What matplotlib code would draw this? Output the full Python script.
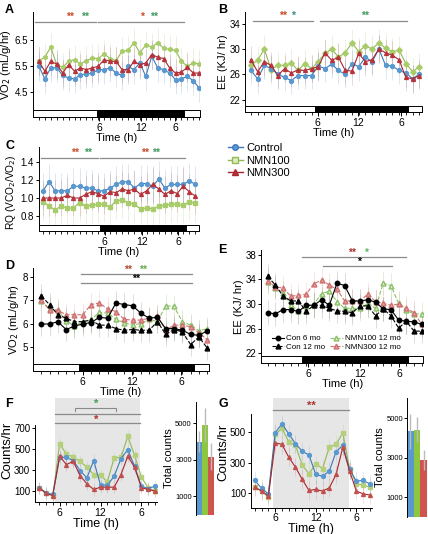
import numpy as np
import matplotlib
matplotlib.use('Agg')
import matplotlib.pyplot as plt
import matplotlib.transforms as mtransforms
from matplotlib.patches import Rectangle
from matplotlib.lines import Line2D

plt.rcParams.update({
    'font.family': ['Liberation Sans Narrow', 'Liberation Sans', 'DejaVu Sans'],
    'font.size': 7,
    'axes.linewidth': 0.7,
    'xtick.major.width': 0.7,
    'ytick.major.width': 0.7,
    'xtick.major.size': 3,
    'ytick.major.size': 2.5,
    'xtick.minor.size': 2,
    'xtick.major.pad': 1,
    'ytick.major.pad': 1,
    'xtick.labelsize': 7.5,
    'ytick.labelsize': 7,
})

# ---- data ----
a_ctrl = [5.50, 5.02, 5.44, 5.44, 5.15, 5.05, 5.02, 5.18, 5.20, 5.24, 5.37, 5.37, 5.44, 5.24,
          5.15, 5.50, 5.37, 5.63, 5.11, 5.89, 5.44, 5.37, 5.24, 4.98, 5.02, 5.11, 4.94, 4.66]
a_n100 = [5.72, 5.85, 6.24, 5.56, 5.46, 5.69, 5.76, 5.59, 5.72, 5.82, 5.80, 5.98, 5.80, 5.72,
          6.08, 6.11, 6.41, 6.02, 6.32, 6.24, 6.41, 6.19, 6.15, 6.11, 5.69, 5.50, 5.63, 5.59]
a_n300 = [5.69, 5.31, 5.69, 5.59, 5.24, 5.56, 5.31, 5.44, 5.37, 5.44, 5.50, 5.76, 5.69, 5.69,
          5.37, 5.37, 5.69, 5.56, 5.63, 5.95, 5.85, 5.80, 5.44, 5.24, 5.28, 5.46, 5.24, 5.24]

b_ctrl = [26.6, 25.3, 27.4, 26.9, 26.0, 25.5, 25.0, 25.8, 25.8, 25.8, 27.3, 26.9, 27.6,
          26.6, 26.0, 27.7, 27.2, 28.7, 28.0, 30.0, 27.4, 27.3, 26.6, 26.2, 25.3, 26.0]
b_n100 = [27.4, 28.2, 30.0, 26.7, 27.4, 27.4, 27.8, 26.6, 27.7, 26.9, 28.0, 29.3, 30.0,
          28.7, 29.4, 31.0, 29.6, 30.5, 30.0, 31.0, 30.1, 29.6, 29.8, 27.7, 26.4, 27.2]
b_n300 = [28.3, 26.4, 28.0, 27.4, 25.8, 26.9, 26.2, 26.7, 26.6, 26.9, 27.2, 29.4, 28.2,
          28.7, 26.6, 26.5, 29.3, 28.0, 28.3, 30.0, 29.4, 29.0, 28.3, 25.5, 25.3, 25.8]

c_ctrl = [1.08, 1.18, 1.08, 1.08, 1.08, 1.13, 1.13, 1.11, 1.11, 1.08, 1.08, 1.11, 1.15,
          1.18, 1.18, 1.11, 1.16, 1.16, 1.13, 1.21, 1.11, 1.15, 1.15, 1.15, 1.19, 1.15]
c_n100 = [0.96, 0.91, 0.87, 0.91, 0.89, 0.89, 0.95, 0.91, 0.92, 0.93, 0.93, 0.90, 0.97,
          0.98, 0.95, 0.93, 0.88, 0.89, 0.88, 0.91, 0.92, 0.93, 0.93, 0.92, 0.96, 0.94]
c_n300 = [1.00, 1.00, 1.00, 1.00, 1.03, 1.00, 1.00, 1.04, 1.07, 1.05, 1.02, 1.07, 1.06,
          1.10, 1.08, 1.10, 1.04, 1.08, 1.15, 1.10, 1.04, 1.08, 1.05, 1.13, 1.07, 1.02]

d_con6 = [5.98, 5.98, 6.08, 5.74, 5.89, 5.98, 6.04, 6.27, 6.23, 6.89, 6.82, 6.77, 6.45, 6.23,
          6.27, 5.78, 5.78, 5.71, 5.53, 5.49, 5.68]
d_con12 = [7.19, 6.82, 6.38, 6.23, 6.08, 6.08, 6.15, 5.93, 5.93, 5.78, 5.71, 5.74, 5.71, 5.71,
           6.08, 5.53, 5.74, 5.64, 5.09, 5.42, 4.94]
d_n100 = [6.97, 6.63, 6.57, 6.12, 5.89, 6.08, 6.18, 6.48, 6.45, 6.18, 6.04, 5.93, 6.00, 6.18,
          6.08, 6.77, 6.74, 6.08, 5.93, 5.68, 5.78]
d_n300 = [7.00, 6.60, 6.57, 6.38, 6.38, 6.38, 6.82, 6.89, 6.63, 6.52, 6.18, 6.15, 6.15, 6.23,
          6.33, 5.71, 5.93, 5.93, 5.86, 5.60, 5.30]

e_con6 = [28.6, 28.4, 29.1, 29.1, 28.8, 29.8, 29.8, 30.7, 29.8, 33.4, 33.0, 30.5, 30.5, 30.7,
          30.3, 29.2, 29.1, 27.4, 27.2, 27.1, 26.7]
e_con12 = [34.5, 33.1, 31.3, 30.5, 30.5, 28.8, 29.8, 29.8, 29.3, 28.9, 28.8, 28.6, 29.7, 29.7,
           28.1, 29.2, 28.1, 26.1, 27.2, 25.6, 25.6]
e_n100 = [33.6, 32.6, 31.8, 29.8, 28.8, 29.7, 30.0, 31.7, 32.1, 30.4, 29.3, 29.3, 29.3, 30.1,
          29.3, 33.4, 33.0, 30.1, 29.0, 28.4, 28.4]
e_n300 = [33.8, 32.8, 32.6, 31.3, 31.4, 31.6, 33.3, 33.9, 33.1, 32.4, 30.5, 30.5, 30.5, 31.6,
          30.4, 30.1, 29.8, 30.0, 29.3, 28.6, 26.7]

hours = [3, 4, 5, 6, 7, 8, 9, 10, 11, 12, 13, 14, 15, 16, 17, 18, 19, 20]
f_ctrl = [126, 78, 62, 419, 419, 387, 292, 221, 387, 151, 151, 237, 406, 493, 333, 142, 119, 142]
f_n100 = [126, 78, 52, 547, 451, 419, 381, 324, 253, 247, 183, 413, 419, 620, 438, 228, 126, 94]
f_n300 = [126, 72, 52, 429, 349, 381, 244, 164, 110, 132, 132, 132, 253, 429, 324, 126, 110, 94]
g_ctrl = [183, 131, 96, 493, 552, 487, 422, 374, 348, 222, 211, 244, 370, 413, 255, 179, 183, 161]
g_n100 = [140, 114, 75, 483, 522, 435, 413, 283, 227, 292, 261, 400, 418, 493, 261, 161, 153, 140]
g_n300 = [140, 114, 81, 428, 418, 335, 270, 190, 118, 125, 114, 135, 222, 400, 244, 114, 96, 88]

f_total = [4000, 4900, 3180]
f_total_err = [550, 920, 720]
g_total = [4350, 4440, 2910]
g_total_err = [890, 630, 510]

# ---- styles ----
BLUE, BLUE_M = '#3d78b8', '#5a98d0'
GREEN, GREEN_M = '#93b955', '#a9cc6a'
RED, RED_M = '#a8262f', '#b8333c'
LGREEN, PINK = '#8cc06a', '#e09a9a'
STAR_R, STAR_G = '#cc4a2a', '#3f9a5c'
GREY = '#8a8a8a'

fig = plt.figure(figsize=(4.28, 5.34), dpi=100)


def light_dark(ax, x0, x1, start, end, h=0.065):
    tr = mtransforms.blended_transform_factory(ax.transData, ax.transAxes)
    ax.add_patch(Rectangle((x0, 0), x1 - x0, h, transform=tr, fc='white', ec='black', lw=0.7,
                           clip_on=False, zorder=5))
    ax.add_patch(Rectangle((start, 0), end - start, h, transform=tr, fc='black', ec='black',
                           lw=0.7, clip_on=False, zorder=6))


def sig(ax, x0, x1, y, color=GREY):
    ax.plot([x0, x1], [y, y], color=color, lw=0.9, zorder=1)


def star(ax, x, y, s, color, size=7.5):
    ax.text(x, y, s, color=color, fontsize=size, ha='center', va='center', fontweight='bold')


def style_ts(ax, n, xlim, ylim, yticks, ticks, ylabel, ysize=8):
    ax.set_xlim(*xlim)
    ax.set_ylim(*ylim)
    ax.set_yticks(yticks)
    ax.set_xticks(ticks)
    ax.set_xticklabels(['6', '12', '6'])
    ax.set_xticks(np.arange(n), minor=True)
    ax.tick_params(axis='x', which='minor', length=2)
    ax.spines['top'].set_visible(False)
    ax.spines['right'].set_visible(False)
    ax.set_xlabel('Time (h)', fontsize=8, labelpad=0)
    ax.set_ylabel(ylabel, fontsize=ysize, labelpad=1)


def three(ax, ctrl, n100, n300, err, gmark='h'):
    for y, lc in [(n100, GREEN), (n300, RED), (ctrl, BLUE)]:
        ax.errorbar(np.arange(len(y)), y, yerr=err, fmt='none', ecolor=lc, alpha=0.18,
                    elinewidth=0.7)
    for y, lc, mc, mk in [(n100, GREEN, GREEN_M, gmark), (ctrl, BLUE, BLUE_M, 'o'),
                          (n300, RED, RED_M, '^')]:
        ax.plot(np.arange(len(y)), y, color=lc, lw=0.8, marker=mk, ms=2.8, mfc=mc, mec=mc,
                zorder=3)


# ---- A ----
ax = fig.add_axes([0.077, 0.781, 0.390, 0.197])
three(ax, a_ctrl, a_n100, a_n300, 0.55)
style_ts(ax, len(a_ctrl), (-1.0, 27.1), (3.55, 7.6), [4.5, 5.5, 6.5], [10.2, 17.2, 22.9],
         'VO$_2$ (mL/g/hr)')
light_dark(ax, -1.0, 27.1, 9.8, 24.4)
sig(ax, -0.6, 9.6, 7.2)
sig(ax, 9.9, 24.4, 7.2)
star(ax, 5.2, 7.42, '**', STAR_R)
star(ax, 7.7, 7.42, '**', STAR_G)
star(ax, 17.4, 7.42, '*', STAR_R)
star(ax, 19.3, 7.42, '**', STAR_G)

# ---- B ----
ax = fig.add_axes([0.572, 0.790, 0.414, 0.188])
three(ax, b_ctrl, b_n100, b_n300, 2.2, gmark='D')
style_ts(ax, len(b_ctrl), (-0.9, 25.4), (20.0, 35.9), [22, 26, 30, 34], [9.9, 15.9, 22.3],
         'EE (KJ/ hr)')
light_dark(ax, -0.9, 25.4, 9.5, 23.3)
sig(ax, 0.25, 9.25, 34.4)
sig(ax, 10.2, 23.2, 34.4)
star(ax, 4.7, 35.2, '**', STAR_R)
star(ax, 6.3, 35.2, '*', '#3a8a8a')
star(ax, 17.0, 35.2, '**', STAR_G)

# ---- C ----
ax = fig.add_axes([0.091, 0.567, 0.374, 0.157])
three(ax, c_ctrl, c_n100, c_n300, 0.2, gmark='s')
style_ts(ax, len(c_ctrl), (-0.66, 25.6), (0.633, 1.56), [0.8, 1.0, 1.2, 1.4],
         [10.1, 16.3, 22.2], 'RQ (VCO$_2$/VO$_2$)', ysize=7.3)
ax.set_yticklabels(['0.8', '1.0', '1.2', '1.4'])
ax.yaxis.set_label_coords(-0.13, 0.47)
light_dark(ax, -0.66, 25.6, 9.4, 23.4, h=0.075)
sig(ax, -0.4, 9.0, 1.448)
sig(ax, 9.4, 23.3, 1.448)
star(ax, 5.2, 1.5, '**', STAR_R)
star(ax, 7.4, 1.5, '**', STAR_G)
star(ax, 16.7, 1.5, '**', STAR_R)
star(ax, 18.6, 1.5, '**', STAR_G)

# legend for A-C
handles = [Line2D([], [], color=BLUE, marker='o', ms=4, mfc=BLUE_M, mec=BLUE, lw=1),
           Line2D([], [], color=GREEN, marker='s', ms=4, mfc='#dcebc0', mec=GREEN, lw=1),
           Line2D([], [], color=RED, marker='^', ms=4, mfc=RED_M, mec=RED, lw=1)]
fig.legend(handles, ['Control', 'NMN100', 'NMN300'], loc='upper left',
           bbox_to_anchor=(0.52, 0.743), frameon=False, fontsize=8, handlelength=1.3,
           handletextpad=0.3, labelspacing=0.25, borderpad=0)


def four(ax, con6, con12, n100, n300, err):
    for y, c in [(con6, '#777777'), (con12, '#777777'), (n100, LGREEN), (n300, PINK)]:
        ax.errorbar(np.arange(len(y)), y, yerr=err, fmt='none', ecolor=c, alpha=0.25,
                    elinewidth=0.7)
    x = np.arange(len(con6))
    ax.plot(x, n100, color=LGREEN, ls='--', lw=0.8, marker='^', ms=3.5, mfc='#d8ecc4',
            mec=LGREEN, zorder=3, label='NMN100 12 mo')
    ax.plot(x, n300, color='#d07070', ls='--', lw=0.8, marker='^', ms=3.5, mfc=PINK,
            mec='#d07070', zorder=3, label='NMN300 12 mo')
    ax.plot(x, con6, color='black', lw=0.8, marker='o', ms=3.2, zorder=4, label='Con 6 mo')
    ax.plot(x, con12, color='black', ls='--', lw=0.8, marker='^', ms=3.5, zorder=4,
            label='Con 12 mo')


# ---- D ----
ax = fig.add_axes([0.077, 0.305, 0.411, 0.193])
four(ax, d_con6, d_con12, d_n100, d_n300, 0.5)
style_ts(ax, len(d_con6), (-1.0, 20.2), (3.94, 8.4), [5, 6, 7, 8], [5.0, 10.9, 16.9],
         'VO$_2$ (mL/g/hr)')
light_dark(ax, -1.0, 20.2, 4.5, 18.4)
sig(ax, 4.8, 18.2, 8.15)
sig(ax, 4.8, 18.2, 7.75)
star(ax, 10.4, 8.32, '**', '#b04a30')
star(ax, 12.3, 8.32, '**', '#6aa84f')
star(ax, 11.4, 7.93, '**', 'black')

# ---- E ----
ax = fig.add_axes([0.610, 0.320, 0.379, 0.212])
four(ax, e_con6, e_con12, e_n100, e_n300, 2.0)
style_ts(ax, len(e_con6), (-0.85, 20.2), (20.4, 38.8), [22, 26, 30, 34, 38],
         [5.3, 12.0, 17.1], 'EE (KJ/ hr)')
light_dark(ax, -0.85, 20.2, 4.5, 18.2)
sig(ax, 4.5, 18.0, 37.7)
sig(ax, 7.2, 16.2, 36.2)
star(ax, 10.9, 38.35, '**', '#b03030')
star(ax, 12.8, 38.35, '*', '#5cb85c')
star(ax, 11.9, 36.8, '*', 'black')
h, l = ax.get_legend_handles_labels()
order = [2, 3, 0, 1]
ax.legend([h[i] for i in order], [l[i] for i in order], ncol=2, loc='lower left',
          bbox_to_anchor=(0.04, 0.07), frameon=False, fontsize=5.8, handlelength=1.6,
          handletextpad=0.25, columnspacing=0.5, labelspacing=0.15, borderpad=0)


def activity(ax, ctrl, n100, n300, shade, ylim, spine_top, yticks):
    ax.axvspan(shade[0], shade[1], color='#e6e6e6', zorder=0, lw=0)
    for y, lc, mc, mk in [(n100, GREEN, '#b5cf7a', 's'), (ctrl, BLUE, BLUE_M, 'o'),
                          (n300, RED, '#c0504d', '^')]:
        ax.errorbar(hours, y, yerr=60, fmt='none', ecolor=lc, alpha=0.15, elinewidth=0.7)
        ax.plot(hours, y, color=lc, lw=0.8, marker=mk, ms=2.8, mfc=mc, mec=mc, zorder=3)
    ax.set_xlim(2.4, 20.3)
    ax.set_ylim(*ylim)
    ax.set_yticks(yticks)
    ax.set_xticks([6, 12, 18])
    ax.set_xticklabels(['6', '12', '6'])
    ax.set_xticks(hours, minor=True)
    ax.spines['top'].set_visible(False)
    ax.spines['right'].set_visible(False)
    ax.spines['left'].set_bounds(ylim[0], spine_top)
    ax.set_xlabel('Time (h)', fontsize=9, labelpad=0)
    ax.set_ylabel('Counts/hr', fontsize=9.5, labelpad=0.5)


def totals(ax, vals, errs, top):
    ax.bar([0, 1, 2], vals, width=1.0, color=[BLUE_M, '#8dc63f', '#d0534d'],
           yerr=errs, ecolor='#bbbbbb', error_kw=dict(elinewidth=1, capsize=0))
    ax.set_xlim(-0.5, 2.5)
    ax.set_ylim(0, top)
    ax.set_yticks([1000, 3000, 5000])
    ax.tick_params(axis='y', labelsize=5.5, length=2)
    ax.set_xticks([])
    for s in ['top', 'right', 'bottom']:
        ax.spines[s].set_visible(False)
    ax.set_ylabel('Total counts', fontsize=8, labelpad=1)


# ---- F ----
ax = fig.add_axes([0.082, 0.060, 0.285, 0.195])
activity(ax, f_ctrl, f_n100, f_n300, (5.3, 17.8), (-10, 990), 730, [100, 300, 500, 700])
ax.plot([8.2, 8.2, 14.2, 14.2], [860, 891, 891, 860], color=GREY, lw=0.8)
star(ax, 11.4, 930, '*', STAR_G, size=8)
sig(ax, 5.3, 17.8, 837)
star(ax, 11.4, 780, '*', '#b03030', size=8)
sig(ax, 5.3, 17.8, 748)
ax = fig.add_axes([0.458, 0.036, 0.042, 0.212])
totals(ax, f_total, f_total_err, 6180)

# ---- G ----
ax = fig.add_axes([0.586, 0.049, 0.283, 0.206])
activity(ax, g_ctrl, g_n100, g_n300, (5.67, 16.85), (5, 721), 613, [100, 300, 500])
sig(ax, 5.67, 16.85, 639)
star(ax, 11.4, 667, '**', '#b03030', size=8)
ax = fig.add_axes([0.951, 0.032, 0.047, 0.223])
totals(ax, g_total, g_total_err, 6050)

# ---- panel letters ----
for lbl, x, y in [('A', 0.012, 0.982), ('B', 0.51, 0.982), ('C', 0.012, 0.727),
                  ('D', 0.012, 0.502), ('E', 0.51, 0.532), ('F', 0.012, 0.243),
                  ('G', 0.51, 0.243)]:
    fig.text(x, y, lbl, fontsize=9, fontweight='bold', ha='left', va='center',
             family=['Liberation Sans', 'DejaVu Sans'])

fig.savefig('out.png', dpi=100)
